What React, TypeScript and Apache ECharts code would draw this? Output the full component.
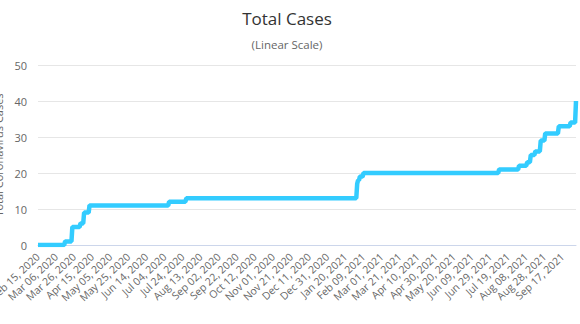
import React, { useEffect, useRef } from 'react';
import * as echarts from 'echarts';

const START_DATE = '2020-02-15';
const END_DATE = '2021-10-02';

// Dates on which the cumulative total changed, and the new total on that date
const changeDates = [
  '2020-03-16', '2020-03-24', '2020-04-02', '2020-04-06', '2020-04-12',
  '2020-07-09', '2020-07-28',
  '2021-02-02', '2021-02-03', '2021-02-05', '2021-02-09',
  '2021-07-09', '2021-07-31', '2021-08-09', '2021-08-13', '2021-08-18',
  '2021-08-24', '2021-08-29', '2021-09-13', '2021-09-26', '2021-10-02',
];
const changeValues = [
  1, 5, 6, 9, 11,
  12, 13,
  17, 18, 19, 20,
  21, 22, 23, 25, 26,
  29, 31, 33, 34, 40,
];

const yMin = 0;
const yMax = 50;
const yInterval = 10;

const MONTHS = ['Jan', 'Feb', 'Mar', 'Apr', 'May', 'Jun', 'Jul', 'Aug', 'Sep', 'Oct', 'Nov', 'Dec'];
const DAY = 86400000;

function fmt(d: Date): string {
  return `${MONTHS[d.getUTCMonth()]} ${String(d.getUTCDate()).padStart(2, '0')}, ${d.getUTCFullYear()}`;
}

const categories: string[] = [];
const values: number[] = [];
{
  const start = Date.parse(START_DATE + 'T00:00:00Z');
  const end = Date.parse(END_DATE + 'T00:00:00Z');
  let ci = 0;
  let cur = 0;
  for (let t = start; t <= end; t += DAY) {
    const iso = new Date(t).toISOString().slice(0, 10);
    while (ci < changeDates.length && changeDates[ci] <= iso) {
      cur = changeValues[ci];
      ci++;
    }
    categories.push(fmt(new Date(t)));
    values.push(cur);
  }
}

export default function App() {
  const ref = useRef<HTMLDivElement>(null);
  useEffect(() => {
    if (!ref.current) return;
    const chart = echarts.init(ref.current, undefined, { renderer: 'svg' });
    const font = '"Open Sans", "DejaVu Sans", sans-serif';
    chart.setOption({
      animation: false,
      backgroundColor: '#ffffff',
      textStyle: { fontFamily: font },
      title: {
        text: 'Total Cases',
        subtext: '(Linear Scale)',
        left: 282,
        top: 5,
        textAlign: 'center',
        itemGap: 11,
        textStyle: { fontFamily: font, fontSize: 17, fontWeight: 'normal', color: '#333333' },
        subtextStyle: { fontFamily: font, fontSize: 11.5, color: '#666666' },
      },
      grid: { left: 38, right: 4, top: 65, bottom: 79, containLabel: false, outerBoundsMode: 'none' },
      xAxis: {
        type: 'category',
        data: categories,
        boundaryGap: false,
        axisLine: { lineStyle: { color: '#ccd6eb' } },
        axisTick: { show: false },
        axisLabel: {
          interval: 19,
          rotate: 43,
          color: '#666666',
          fontSize: 10.5,
          margin: 10,
          fontFamily: font,
        },
        splitLine: { show: false },
      },
      yAxis: {
        type: 'value',
        min: yMin,
        max: yMax,
        interval: yInterval,
        name: 'Total Coronavirus Cases',
        nameLocation: 'middle',
        nameGap: 31,
        nameTextStyle: { color: '#666666', fontSize: 11, fontFamily: font },
        axisLine: { show: false },
        axisTick: { show: false },
        axisLabel: { color: '#666666', fontSize: 11, margin: 11, fontFamily: font },
        splitLine: { lineStyle: { color: '#e6e6e6' } },
      },
      series: [
        {
          type: 'line',
          data: values,
          showSymbol: false,
          lineStyle: { width: 4.5, color: '#33ccff' },
          itemStyle: { color: '#33ccff' },
        },
      ],
    });
    return () => chart.dispose();
  }, []);
  return <div ref={ref} style={{ width: 580, height: 324, position: 'absolute', left: 0, top: 0 }} />;
}
